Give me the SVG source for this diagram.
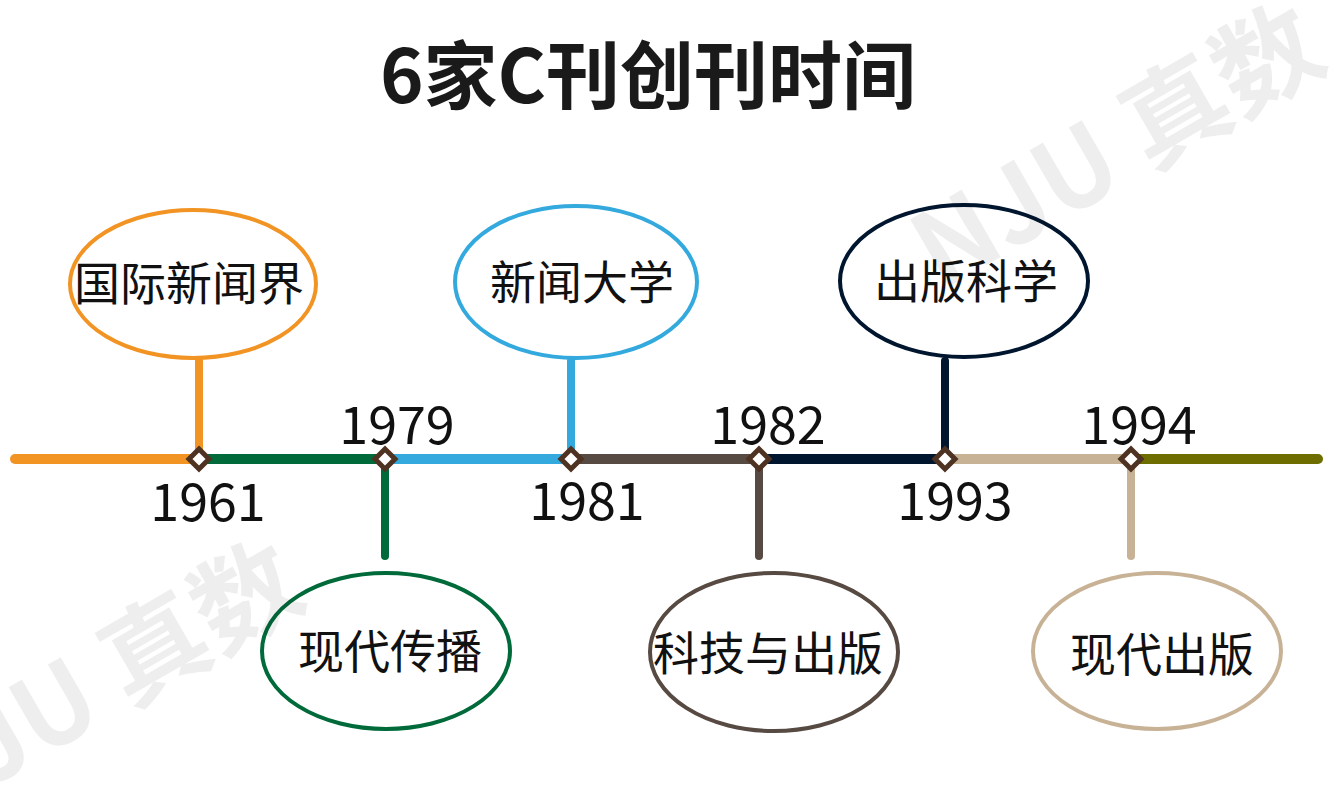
<svg xmlns="http://www.w3.org/2000/svg" width="1335" height="795" viewBox="0 0 1335 795">
<style>
.wm{font-family:"Noto Sans CJK SC","Noto Sans",sans-serif;font-weight:700;font-size:105px;fill:#000;fill-opacity:0.065;text-anchor:middle;dominant-baseline:central}
.title{font-family:"Noto Sans CJK SC","Noto Sans",sans-serif;font-weight:700;font-size:74px;fill:#1a1a1a;text-anchor:middle}
.lbl{font-family:"Noto Sans CJK SC","Noto Sans",sans-serif;font-size:46px;fill:#111;text-anchor:middle}
.yr{font-family:"Noto Sans CJK SC","Noto Sans",sans-serif;font-size:52px;fill:#111;text-anchor:middle}
.seg{stroke-width:10;fill:none}
.stem{stroke-width:8;stroke-linecap:round;fill:none}
.ell{fill:#fff;stroke-width:4}
.dia{fill:#fff;stroke:#4f3322;stroke-width:5}
</style>
<rect width="1335" height="795" fill="#fff"/>
<text class="title" x="648" y="103">6家C刊创刊时间</text>
<g id="connectors">
<line class="seg" x1="15" y1="459" x2="199" y2="459" stroke="#f29423" stroke-linecap="round"/>
<line class="seg" x1="199" y1="459" x2="385" y2="459" stroke="#006a3a"/>
<line class="seg" x1="385" y1="459" x2="571" y2="459" stroke="#34a9dd"/>
<line class="seg" x1="571" y1="459" x2="759" y2="459" stroke="#574a42"/>
<line class="seg" x1="759" y1="459" x2="945" y2="459" stroke="#00162f"/>
<line class="seg" x1="945" y1="459" x2="1131" y2="459" stroke="#c8b296"/>
<line class="seg" x1="1131" y1="459" x2="1318" y2="459" stroke="#6e6e00" stroke-linecap="round"/>
<line class="stem" x1="199" y1="361" x2="199" y2="459" stroke="#f29423"/>
<line class="stem" x1="385" y1="459" x2="385" y2="556" stroke="#006a3a"/>
<line class="stem" x1="571" y1="361" x2="571" y2="459" stroke="#34a9dd"/>
<line class="stem" x1="759" y1="459" x2="759" y2="556" stroke="#574a42"/>
<line class="stem" x1="945" y1="361" x2="945" y2="459" stroke="#00162f"/>
<line class="stem" x1="1131" y1="459" x2="1131" y2="556" stroke="#c8b296"/>
</g>
<g id="markers">
<path class="dia" d="M199 449 L209 459 L199 469 L189 459 Z"/>
<path class="dia" d="M385 449 L395 459 L385 469 L375 459 Z"/>
<path class="dia" d="M571 449 L581 459 L571 469 L561 459 Z"/>
<path class="dia" d="M759 449 L769 459 L759 469 L749 459 Z"/>
<path class="dia" d="M945 449 L955 459 L945 469 L935 459 Z"/>
<path class="dia" d="M1131 449 L1141 459 L1131 469 L1121 459 Z"/>
</g>
<g id="years">
<text class="yr" x="208" y="521">1961</text>
<text class="yr" x="397" y="444">1979</text>
<text class="yr" x="587" y="520">1981</text>
<text class="yr" x="768" y="444">1982</text>
<text class="yr" x="955" y="520">1993</text>
<text class="yr" x="1139" y="444">1994</text>
</g>
<g id="n1"><ellipse class="ell" cx="193" cy="284" rx="123" ry="74" stroke="#f29423"/><text class="lbl" x="189" y="300">国际新闻界</text></g>
<g id="n2"><ellipse class="ell" cx="386" cy="651" rx="124" ry="78" stroke="#006a3a"/><text class="lbl" x="390" y="668">现代传播</text></g>
<g id="n3"><ellipse class="ell" cx="576" cy="282" rx="121" ry="76" stroke="#34a9dd"/><text class="lbl" x="582" y="299">新闻大学</text></g>
<g id="n4"><ellipse class="ell" cx="774" cy="652" rx="124" ry="79" stroke="#574a42"/><text class="lbl" x="768" y="670">科技与出版</text></g>
<g id="n5"><ellipse class="ell" cx="964" cy="281" rx="124" ry="76" stroke="#00162f"/><text class="lbl" x="966" y="298">出版科学</text></g>
<g id="n6"><ellipse class="ell" cx="1157" cy="651" rx="124" ry="78" stroke="#c8b296"/><text class="lbl" x="1162" y="671">现代出版</text></g>
<g id="watermark">
<text class="wm" transform="translate(1113,139) rotate(-30)">NJU 真数</text>
<text class="wm" transform="translate(92,676) rotate(-30)">NJU 真数</text>
</g>
</svg>
